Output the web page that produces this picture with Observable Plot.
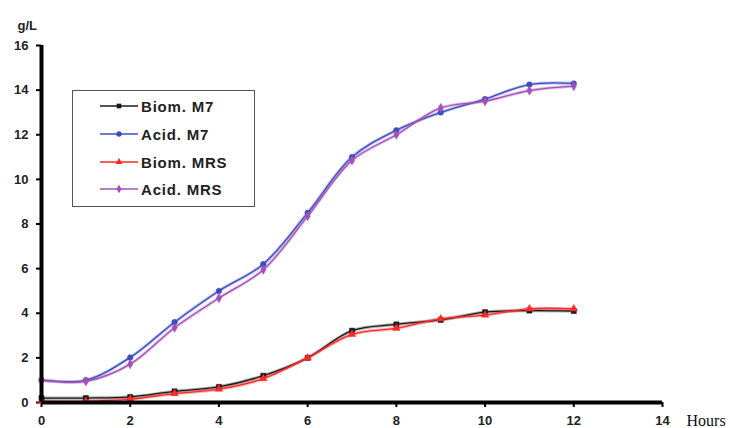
<!DOCTYPE html>
<html>
<head>
<meta charset="utf-8">
<script src="https://cdn.jsdelivr.net/npm/d3@7"></script>
<script src="https://cdn.jsdelivr.net/npm/@observablehq/plot@0.6"></script>
<style>
  html, body { margin: 0; padding: 0; background: #fff; }
  #wrap { position: relative; width: 730px; height: 428px; }
  #legend {
    position: absolute; left: 72px; top: 90px; width: 183px; height: 117px;
    border: 1.5px solid #555; background: #fff; box-sizing: border-box;
    font-family: "Liberation Sans", Arial, sans-serif; font-weight: bold; font-size: 15px; color: #222;
    letter-spacing: 0.8px;
  }
  .row { position: absolute; left: 26px; height: 16px; display: flex; align-items: center; }
  .row svg { margin-right: 2px; }
</style>
</head>
<body>
<div id="wrap">
  <div id="chart"></div>
  <div id="legend"></div>
</div>
<script>
const hours = [0, 1, 2, 3, 4, 5, 6, 7, 8, 9, 10, 11, 12];
const biomM7  = [0.2, 0.2, 0.25, 0.5, 0.7, 1.2, 2.0, 3.22, 3.5, 3.7, 4.05, 4.12, 4.1];
const acidM7  = [1.0, 1.0, 2.02, 3.6, 5.0, 6.2, 8.5, 11.0, 12.2, 13.0, 13.6, 14.25, 14.3];
const biomMRS = [0.05, 0.05, 0.15, 0.4, 0.6, 1.07, 2.0, 3.05, 3.33, 3.75, 3.92, 4.2, 4.2];
const acidMRS = [1.0, 0.95, 1.72, 3.35, 4.68, 5.95, 8.35, 10.85, 12.0, 13.2, 13.5, 13.98, 14.18];
const seriesNames = ["Biom. M7", "Acid. M7", "Biom. MRS", "Acid. MRS"];
const xTicks = [0, 2, 4, 6, 8, 10, 12, 14];
const yTicks = [0, 2, 4, 6, 8, 10, 12, 14, 16];

const seriesValues = [biomM7, acidM7, biomMRS, acidMRS];
const colors = ["#1a1a1a", "#3b4cc0", "#ff2a2a", "#a550b8"];
const symbols = ["square", "circle", "triangle", "diamond"];

const rows = [];
seriesNames.forEach((name, i) => {
  hours.forEach((h, j) => rows.push({series: name, h, v: seriesValues[i][j]}));
});
const order = [1, 3, 0, 2];

const font = "'Liberation Sans', Arial, sans-serif";
const marks = [];
for (const i of order) {
  const data = rows.filter(d => d.series === seriesNames[i]);
  marks.push(Plot.line(data, {x: "h", y: "v", stroke: colors[i], strokeOpacity: 0.35, strokeWidth: 3.2, curve: "catmull-rom"}));
  marks.push(Plot.line(data, {x: "h", y: "v", stroke: colors[i], strokeWidth: 1.3, curve: "catmull-rom"}));
  marks.push(Plot.dot(data, {x: "h", y: "v", symbol: () => symbols[i], fill: colors[i], stroke: colors[i], strokeWidth: 0.5, r: i === 0 ? 2.9 : 2.8}));
}

const chart = Plot.plot({
  width: 730,
  height: 428,
  marginLeft: 41,
  marginRight: 68,
  marginTop: 45,
  marginBottom: 26,
  style: {fontFamily: font, background: "#fff"},
  x: {domain: [0, 14]},
  y: {domain: [0, 16]},
  marks: [
    Plot.axisY({ticks: yTicks, tickSize: 5, tickPadding: 8, strokeWidth: 2, label: null,
      fontSize: 13, fontWeight: "bold", fill: "#222"}),
    Plot.axisX({ticks: xTicks, tickSize: 5, tickPadding: 8, strokeWidth: 2, label: null,
      fontSize: 13, fontWeight: "bold", fill: "#222"}),
    ...marks,
    Plot.ruleX([0], {y1: 0, y2: 16, stroke: "#000", strokeWidth: 4}),
    Plot.ruleY([0], {x1: 0, x2: 14, stroke: "#000", strokeWidth: 4}),
    Plot.text(["g/L"], {frameAnchor: "top-left", dx: -24, dy: -25, fontSize: 13, fontWeight: "bold", fill: "#222", textAnchor: "start"}),
    Plot.text(["Hours"], {frameAnchor: "bottom-right", lineAnchor: "middle", dx: 24, dy: 18, fontSize: 16, fontFamily: "'Liberation Serif', 'Times New Roman', serif", fill: "#111", textAnchor: "start"})
  ]
});
document.getElementById("chart").appendChild(chart);

const legend = document.getElementById("legend");
const rowTops = [7, 35, 63, 90];
seriesNames.forEach((name, i) => {
  const row = document.createElement("div");
  row.className = "row";
  row.style.top = rowTops[i] + "px";
  const sw = d3.create("svg").attr("width", 40).attr("height", 16);
  sw.append("line").attr("x1", 1).attr("x2", 39).attr("y1", 8).attr("y2", 8)
    .attr("stroke", colors[i]).attr("stroke-width", 1.5);
  sw.append("path").attr("transform", "translate(20,8)")
    .attr("d", d3.symbol(
      {square: d3.symbolSquare, circle: d3.symbolCircle, triangle: d3.symbolTriangle, diamond: d3.symbolDiamond}[symbols[i]], 22)())
    .attr("fill", colors[i]);
  row.appendChild(sw.node());
  const t = document.createElement("span");
  t.textContent = name;
  row.appendChild(t);
  legend.appendChild(row);
});
</script>
</body>
</html>
